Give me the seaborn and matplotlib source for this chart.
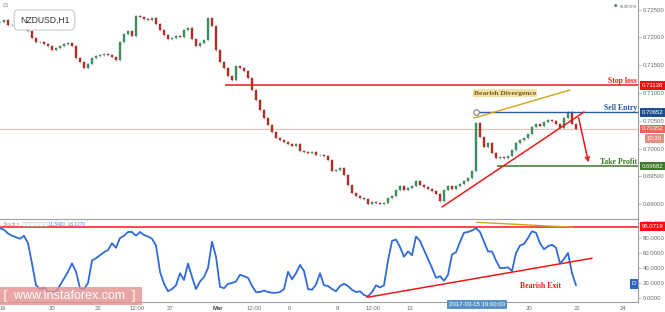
import numpy as np
import pandas as pd
import matplotlib
matplotlib.use("Agg")
import matplotlib.pyplot as plt
import matplotlib.transforms as mtransforms
import seaborn as sns

# ---------------- data ----------------
symbol = "NZDUSD,H1"
closes = [0.72275, 0.72311, 0.72221, 0.72221, 0.72185, 0.72203, 0.72167, 0.72113, 0.71987, 0.71915,
          0.71915, 0.71880, 0.71844, 0.71772, 0.71808, 0.71844, 0.71880, 0.71898, 0.71844, 0.71628,
          0.71556, 0.71448, 0.71520, 0.71628, 0.71664, 0.71682, 0.71700, 0.71682, 0.71646, 0.71592,
          0.71915, 0.72059, 0.72113, 0.72023, 0.72383, 0.72365, 0.72329, 0.72311, 0.72347, 0.72239,
          0.72131, 0.72041, 0.71969, 0.71987, 0.72023, 0.72005, 0.72131, 0.72167, 0.71969, 0.71844,
          0.71898, 0.71951, 0.72347, 0.72203, 0.71772, 0.71556, 0.71448, 0.71304, 0.71232, 0.71484,
          0.71448, 0.71394, 0.71268, 0.71052, 0.70872, 0.70692, 0.70549, 0.70423, 0.70297, 0.70189,
          0.70153, 0.70117, 0.70081, 0.70045, 0.70081, 0.69955, 0.69937, 0.69919, 0.69937, 0.69883,
          0.69883, 0.69865, 0.69793, 0.69595, 0.69613, 0.69649, 0.69523, 0.69344, 0.69200, 0.69146,
          0.69110, 0.69092, 0.69002, 0.69038, 0.69020, 0.69002, 0.69020, 0.69110, 0.69146, 0.69254,
          0.69326, 0.69254, 0.69290, 0.69326, 0.69415, 0.69344, 0.69308, 0.69272, 0.69236, 0.69182,
          0.69056, 0.69254, 0.69326, 0.69272, 0.69326, 0.69362, 0.69415, 0.69469, 0.69595, 0.70459,
          0.70207, 0.70027, 0.70099, 0.69919, 0.69829, 0.69847, 0.69829, 0.69865, 0.69973, 0.70099,
          0.70153, 0.70189, 0.70261, 0.70387, 0.70441, 0.70405, 0.70477, 0.70513, 0.70495, 0.70441,
          0.70369, 0.70549, 0.70657, 0.70441, 0.70352]
stoch = [93, 91, 86, 83, 81, 79, 83, 73, 46, 17,
         12, 14, 8, 8, 9, 17, 26, 35, 46, 35,
         13, 12, 20, 50, 53, 57, 61, 64, 73, 67,
         80, 83, 88, 88, 83, 88, 84, 82, 79, 70,
         35, 19, 9, 12, 17, 33, 24, 46, 28, 12,
         22, 28, 40, 75, 55, 15, 13, 19, 20, 22,
         31, 29, 27, 16, 8, 8, 10, 8, 7, 7,
         8, 12, 35, 25, 33, 44, 36, 12, 11, 18,
         33, 17, 16, 12, 9, 16, 19, 16, 11, 8,
         9, 4, 2, 8, 17, 14, 17, 50, 76, 78,
         68, 55, 62, 57, 82, 76, 64, 52, 40, 27,
         29, 23, 31, 58, 61, 75, 87, 88, 90, 93,
         88, 75, 62, 62, 50, 40, 40, 41, 36, 60,
         70, 72, 80, 89, 87, 73, 65, 69, 71, 67,
         46, 52, 60, 33, 17]

stop_loss = 0.71138
sell_entry = 0.70652
current_price = 0.70352
take_profit = 0.69682
stoch_level = 95.0719
timer_text = "12:20"
stoch_values_text = "11.5400  16.1270"

x_tick_labels = ["16", "20", "22", "12:00", "27", "Mar", "12:00", "6", "8", "12:00", "13", "20", "22", "24"]
x_tick_pos = [0.75, 13, 24.5, 34.25, 42.5, 54.5, 63.5, 72.25, 84.25, 93.25, 102.5, 132.25, 144.25, 155.75]
cursor_label = "2017-03-15 19:00:00"
cursor_pos = 119.25
price_ticks = [0.690, 0.695, 0.700, 0.705, 0.710, 0.715, 0.720, 0.725]
stoch_ticks = [0, 20, 40, 60, 80, 100]

# annotation geometry: (bar index, value)
stop_start = 56.25
entry_start = 119
tp_start = 124.25
div_price_x, div_price_y = [118.5, 142.5], [0.70549, 0.71052]
trend_price_x, trend_price_y = [110.5, 146.0], [0.68948, 0.70657]
arrow_x, arrow_y = [144.5, 147.25], [0.70603, 0.69703]
div_stoch_x, div_stoch_y = [119.25, 143.25], [100.9, 94.3]
trend_stoch_x, trend_stoch_y = [91.75, 148.0], [0.9, 53.0]

# ---------------- style ----------------
sns.set_theme(style="white")
plt.rcParams['font.family'] = ['Liberation Sans', 'DejaVu Sans']

RED = "#f01818"
BLUE = "#2b5aa6"
GREEN = "#3c7a28"
GOLD = "#d4a21a"
UP = "#3f8c5f"
DOWN = "#a8322a"
WICK = "#bcbcbc"
AXC = "#a0a0a0"
LBL = "#6a6a6a"

df = pd.DataFrame({"bar": np.arange(len(closes)), "close": closes})
df["open"] = df["close"].shift(1).fillna(df["close"].iloc[0])
pad = 0.00025
df["high"] = df[["open", "close"]].max(axis=1) + pad
df["low"] = df[["open", "close"]].min(axis=1) - pad
df["body"] = (df["close"] - df["open"]).where((df["close"] - df["open"]).abs() > 0.00004, 0.00004)
df["color"] = np.where(df["close"] >= df["open"], UP, DOWN)
sdf = pd.DataFrame({"bar": np.arange(len(stoch)), "stoch": stoch})

W, H = 665, 312
fig = plt.figure(figsize=(W / 100, H / 100), dpi=100)
axw = 638 / W
ax = fig.add_axes([0, (H - 219) / H, axw, 219 / H])
ax2 = fig.add_axes([0, 10 / H, axw, 83 / H], sharex=ax)

XMAX = 159.5
ax.set_xlim(0, XMAX)
ax.set_ylim(0.68732, 0.72671)
ax2.set_ylim(-5.3, 105.3)

# candles
ax.vlines(df["bar"], df["low"], df["high"], color=WICK, linewidth=0.7, zorder=2)
ax.bar(df["bar"], df["body"], bottom=df["open"], width=0.6, color=df["color"],
       edgecolor=df["color"], linewidth=0.3, zorder=3)

# levels on price panel
ax.axhline(current_price, color="#f6b9b0", linewidth=0.8, zorder=1)
ax.hlines(stop_loss, stop_start, XMAX, color=RED, linewidth=1.1, zorder=4)
ax.hlines(sell_entry, entry_start, XMAX, color=BLUE, linewidth=1.0, zorder=4)
ax.hlines(take_profit, tp_start, XMAX, color=GREEN, linewidth=1.1, zorder=4)
ax.plot([entry_start], [sell_entry], 'o', mfc="white", mec="#808080", ms=4, mew=0.8, zorder=5)
ax.plot(div_price_x, div_price_y, color=GOLD, linewidth=1.0, zorder=4)
ax.plot(trend_price_x, trend_price_y, color=RED, linewidth=1.1, zorder=4)
ax.annotate("", xy=(arrow_x[1], arrow_y[1]), xytext=(arrow_x[0], arrow_y[0]),
            arrowprops=dict(arrowstyle="->", color=RED, lw=1.1, mutation_scale=7), zorder=5)

serif = ['Liberation Serif', 'DejaVu Serif']
ax.text(XMAX - 0.3, stop_loss, "Stop loss", color=RED, fontsize=5.6, fontweight="bold",
        family=serif, ha="right", va="bottom")
ax.text(XMAX - 0.3, sell_entry, "Sell Entry", color=BLUE, fontsize=5.6, fontweight="bold",
        family=serif, ha="right", va="bottom")
ax.text(XMAX - 0.3, take_profit, "Take Profit", color=GREEN, fontsize=5.6, fontweight="bold",
        family=serif, ha="right", va="bottom")
ax.text(126.2, 0.70998, "Bearish Divergence", color="#7a5a10", fontsize=5.4, fontweight="bold",
        family=serif, ha="center", va="center",
        bbox=dict(boxstyle="square,pad=0.15", fc="#f2e2a6", ec="none"))

# price axis
ax.yaxis.tick_right()
ax.set_yticks(price_ticks)
ax.set_yticklabels([f"{v:.5f}" for v in price_ticks])
ax.tick_params(axis="y", length=2, width=0.5, color=AXC, labelsize=4.3, labelcolor=LBL, pad=1.2)
ax.tick_params(axis="x", bottom=False, labelbottom=False)
for s in ["left", "top", "bottom"]:
    ax.spines[s].set_visible(False)
ax.spines["right"].set_color(AXC)
ax.spines["right"].set_linewidth(0.8)

bt = mtransforms.blended_transform_factory(ax.transAxes, ax.transData)
def price_box(axis, tr, y, txt, fc):
    axis.text(1.006, y, txt, transform=tr, ha="left", va="center", fontsize=4.3, color="white",
              clip_on=False, zorder=10,
              bbox=dict(boxstyle="square,pad=0.3", fc=fc, ec="none"))

price_box(ax, bt, stop_loss, f"{stop_loss:.5f}", "#f20f0f")
price_box(ax, bt, sell_entry, f"{sell_entry:.5f}", "#1f4f8f")
price_box(ax, bt, current_price, f"{current_price:.5f}", "#e06a5c")
ax.text(1.0 + 24 / 638, current_price, timer_text,
        transform=mtransforms.offset_copy(bt, fig=fig, x=0, y=-6.8, units="points"),
        ha="right", va="center", fontsize=4.3, color="white", clip_on=False, zorder=10,
        bbox=dict(boxstyle="square,pad=0.3", fc="#e98c82", ec="none"))
price_box(ax, bt, take_profit, f"{take_profit:.5f}", "#3d7a2a")

ax.text(0.0697, 0.9087, symbol, transform=ax.transAxes, ha="center", va="center", fontsize=6.2,
        color="#333333", zorder=12,
        bbox=dict(boxstyle="round,pad=0.65,rounding_size=0.5", fc="white", ec="#c8c8c8", lw=0.8))
ax.text(0.004, 0.975, "\u229f", transform=ax.transAxes, ha="left", va="center", fontsize=4.5,
        color="#9a9a9a", family=["DejaVu Sans"])
ax.text(0.968, 0.972, "\u25cf", transform=ax.transAxes, ha="right", va="center", fontsize=2.8,
        color="#3a8a50", family=["DejaVu Sans"])
ax.text(0.998, 0.972, "realtime", transform=ax.transAxes, ha="right", va="center", fontsize=3.4,
        color="#8a8a8a")

# ---------------- stochastic panel ----------------
sns.lineplot(data=sdf, x="bar", y="stoch", ax=ax2, color="#2f6bdc", linewidth=1.3, zorder=4)
ax2.axhline(stoch_level, color=RED, linewidth=1.1, zorder=3)
ax2.plot(div_stoch_x, div_stoch_y, color=GOLD, linewidth=1.0, zorder=5, clip_on=False)
ax2.plot(trend_stoch_x, trend_stoch_y, color=RED, linewidth=1.1, zorder=5)
ax2.text(135, 16.4, "Bearish Exit", color="#e2231a", fontsize=5.6, fontweight="bold", family=serif,
         ha="center", va="center", zorder=6)
ax2.text(158.5, 18.7, "D", color="white", fontsize=4.5, ha="center", va="center", zorder=6,
         bbox=dict(boxstyle="square,pad=0.35", fc="#2a62c8", ec="none"))

ax2.set_xlabel("")
ax2.set_ylabel("")
ax2.yaxis.tick_right()
ax2.set_yticks(stoch_ticks)
ax2.set_yticklabels([f"{v:.4f}" for v in stoch_ticks])
ax2.tick_params(axis="y", length=2, width=0.5, color=AXC, labelsize=4.3, labelcolor=LBL, pad=1.2)
ax2.set_xticks(x_tick_pos)
ax2.set_xticklabels(x_tick_labels)
ax2.tick_params(axis="x", length=1.5, width=0.5, color=AXC, labelsize=4.3, labelcolor=LBL, pad=1.2)
for lab in ax2.get_xticklabels():
    if lab.get_text() == "Mar":
        lab.set_fontweight("bold")
        lab.set_color("#444444")
ax2.spines["left"].set_visible(False)
for s in ["top", "bottom", "right"]:
    ax2.spines[s].set_color(AXC)
    ax2.spines[s].set_linewidth(0.8)

bt2 = mtransforms.blended_transform_factory(ax2.transAxes, ax2.transData)
price_box(ax2, bt2, stoch_level, f"{stoch_level:.4f}", "#f20f0f")

ax2.text(cursor_pos, -5.3, cursor_label, transform=ax2.transData, ha="center", va="top",
         fontsize=4.3, color="white", clip_on=False, zorder=10,
         bbox=dict(boxstyle="square,pad=0.35", fc="#5b93c9", ec="none"))

ax2.text(0.004, 0.93, "Stoch =", transform=ax2.transAxes, fontsize=3.4, color="#8a8a8a",
         ha="left", va="center")
ax2.text(0.034, 0.93, "\u25a1\u25a1\u25a1\u25a1\u25a1\u25a1", transform=ax2.transAxes, fontsize=3.4,
         color="#b0b0b0", ha="left", va="center", family=["DejaVu Sans"])
ax2.text(0.075, 0.93, stoch_values_text, transform=ax2.transAxes, fontsize=3.4, color="#3a86e0",
         ha="left", va="center")

# watermark
ax2.text(0.0, 0.0, " [  www.instaforex.com  ] ", transform=ax2.transAxes, ha="left", va="bottom",
         fontsize=9.0, color="white", zorder=20, clip_on=False,
         bbox=dict(boxstyle="square,pad=0.25", fc="#e58f8f", ec="none", alpha=0.8))

fig.savefig("out.png", dpi=100)
